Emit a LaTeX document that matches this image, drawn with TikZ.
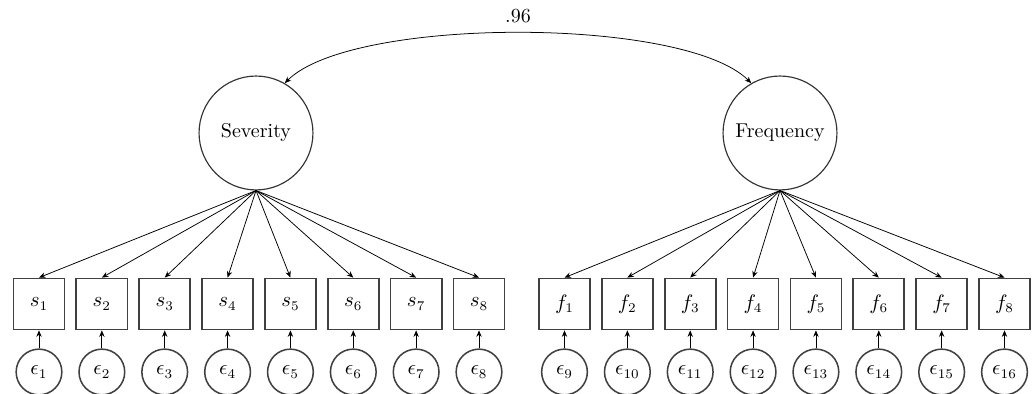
\documentclass[tikz,border=0pt]{standalone}
\usepackage{amsmath, amssymb}
\usetikzlibrary{arrows.meta}

\begin{document}
\begin{tikzpicture}[x=0.525pt, y=0.525pt, node distance={33pt}, >={Stealth[length=3.4pt, width=2.8pt]},
    font=\fontsize{10.5}{12.5}\selectfont,
    latent/.style = {draw=black!80, circle, minimum size=59.8pt, inner sep=0pt, line width=0.6pt},
    obs/.style = {draw=black!75, rectangle, minimum size=26.8pt, inner sep=0pt, line width=0.9pt},
    err/.style = {draw=black!75, circle, minimum size=24pt, inner sep=0pt, line width=0.8pt, node distance={35.7pt}}]
    \useasboundingbox (0,0) rectangle (1035,394);

    \node[latent] (sev) at (256,261) {Severity};
    \node[latent] (freq) at (780,261) {Frequency};

    \node[obs] (s1) at (39,90) {$s_1$};
    \node[obs] (s2) [right of=s1] {$s_2$};
    \node[obs] (s3) [right of=s2] {$s_3$};
    \node[obs] (s4) [right of=s3] {$s_4$};
    \node[obs] (s5) [right of=s4] {$s_5$};
    \node[obs] (s6) [right of=s5] {$s_6$};
    \node[obs] (s7) [right of=s6] {$s_7$};
    \node[obs] (s8) [right of=s7] {$s_8$};
    \node[obs] (f1) at (564.5,90) {$f_1$};
    \node[obs] (f2) [right of=f1] {$f_2$};
    \node[obs] (f3) [right of=f2] {$f_3$};
    \node[obs] (f4) [right of=f3] {$f_4$};
    \node[obs] (f5) [right of=f4] {$f_5$};
    \node[obs] (f6) [right of=f5] {$f_6$};
    \node[obs] (f7) [right of=f6] {$f_7$};
    \node[obs] (f8) [right of=f7] {$f_8$};

    \node[err] (e1) [below of=s1] {$\epsilon_1$};
    \node[err] (e2) [below of=s2] {$\epsilon_2$};
    \node[err] (e3) [below of=s3] {$\epsilon_3$};
    \node[err] (e4) [below of=s4] {$\epsilon_4$};
    \node[err] (e5) [below of=s5] {$\epsilon_5$};
    \node[err] (e6) [below of=s6] {$\epsilon_6$};
    \node[err] (e7) [below of=s7] {$\epsilon_7$};
    \node[err] (e8) [below of=s8] {$\epsilon_8$};
    \node[err] (e9) [below of=f1] {$\epsilon_9$};
    \node[err] (e10) [below of=f2] {$\epsilon_{10}$};
    \node[err] (e11) [below of=f3] {$\epsilon_{11}$};
    \node[err] (e12) [below of=f4] {$\epsilon_{12}$};
    \node[err] (e13) [below of=f5] {$\epsilon_{13}$};
    \node[err] (e14) [below of=f6] {$\epsilon_{14}$};
    \node[err] (e15) [below of=f7] {$\epsilon_{15}$};
    \node[err] (e16) [below of=f8] {$\epsilon_{16}$};

    % covariance
    \draw[<->] (sev.60) to[out=45, in=135, looseness=0.52] node[above=2pt] (cov) {.96} (freq.120);

    % loadings
    \draw[->] (sev.south) -- (s1.north);
    \draw[->] (sev.south) -- (s2.north);
    \draw[->] (sev.south) -- (s3.north);
    \draw[->] (sev.south) -- (s4.north);
    \draw[->] (sev.south) -- (s5.north);
    \draw[->] (sev.south) -- (s6.north);
    \draw[->] (sev.south) -- (s7.north);
    \draw[->] (sev.south) -- (s8.north);
    \draw[->] (freq.south) -- (f1.north);
    \draw[->] (freq.south) -- (f2.north);
    \draw[->] (freq.south) -- (f3.north);
    \draw[->] (freq.south) -- (f4.north);
    \draw[->] (freq.south) -- (f5.north);
    \draw[->] (freq.south) -- (f6.north);
    \draw[->] (freq.south) -- (f7.north);
    \draw[->] (freq.south) -- (f8.north);

    % errors
    \draw[->] (e1) -- (s1);
    \draw[->] (e2) -- (s2);
    \draw[->] (e3) -- (s3);
    \draw[->] (e4) -- (s4);
    \draw[->] (e5) -- (s5);
    \draw[->] (e6) -- (s6);
    \draw[->] (e7) -- (s7);
    \draw[->] (e8) -- (s8);
    \draw[->] (e9) -- (f1);
    \draw[->] (e10) -- (f2);
    \draw[->] (e11) -- (f3);
    \draw[->] (e12) -- (f4);
    \draw[->] (e13) -- (f5);
    \draw[->] (e14) -- (f6);
    \draw[->] (e15) -- (f7);
    \draw[->] (e16) -- (f8);
\end{tikzpicture}
\end{document}
